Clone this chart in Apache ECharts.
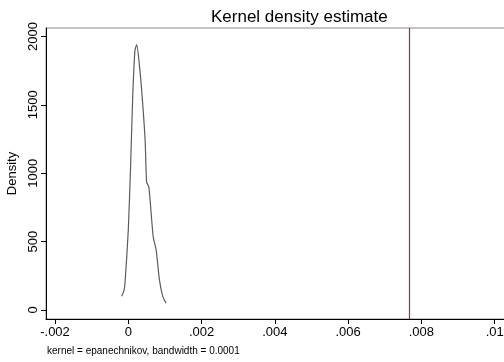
<!DOCTYPE html>
<html>
<head>
<meta charset="utf-8">
<script src="https://cdn.jsdelivr.net/npm/echarts@6/dist/echarts.min.js"></script>
<style>html,body{margin:0;padding:0;background:#fff;}#c{width:504px;height:362px;}</style>
</head>
<body>
<div id="c"></div>
<script>
// Kernel density estimate curve (x = value, y = density)
const densX = [-0.00018, -0.00012, -0.00009, 0.0, 0.000065, 0.00012, 0.00018, 0.00023, 0.0003, 0.00038, 0.00046, 0.0005, 0.00056, 0.00061, 0.00068, 0.00076, 0.00085, 0.00094, 0.00103];
const densY = [100, 140, 195, 585, 1070, 1555, 1895, 1940, 1800, 1555, 1240, 935, 900, 755, 535, 440, 220, 100, 50];
// vertical reference line
const refLineX = 0.00768;
// tick values and labels
const xTicks = [-0.002, 0, 0.002, 0.004, 0.006, 0.008, 0.01];
const xTickLabels = ['-.002', '0', '.002', '.004', '.006', '.008', '.01'];
const yTicks = [0, 500, 1000, 1500, 2000];
const yTickLabels = ['0', '500', '1000', '1500', '2000'];
const titleText = 'Kernel density estimate';
const yName = 'Density';
const noteText = 'kernel = epanechnikov, bandwidth = 0.0001';

const font = '"Liberation Sans", Arial, Helvetica, sans-serif';
const refColor = '#a3293d';
function nearestLabel(v, ticks, labels) {
  let best = 0, bd = Infinity;
  ticks.forEach((t, i) => { const d = Math.abs(t - v); if (d < bd) { bd = d; best = i; } });
  return labels[best];
}
const chart = echarts.init(document.getElementById('c'), null, {renderer: 'canvas'});
chart.setOption({
  animation: false,
  backgroundColor: '#fff',
  title: {
    text: titleText, left: 206, top: 4,
    textStyle: {fontFamily: font, fontSize: 17, fontWeight: 'normal', color: '#000'}
  },
  graphic: [{
    type: 'text', left: 47, top: 346,
    style: {text: noteText, fontFamily: font, fontSize: 10, fill: '#000'}
  }],
  grid: {left: 46, top: 28, width: 467, bottom: 43, outerBoundsMode: 'none', containLabel: false,
    show: true, borderColor: '#8a8a8a', borderWidth: 1, backgroundColor: 'transparent'},
  xAxis: {
    type: 'value', min: -0.002246, max: 0.0105,
    axisLine: {show: true, onZero: false, lineStyle: {color: '#000', width: 1}},
    axisTick: {show: true, length: 5, customValues: xTicks, lineStyle: {color: '#000'}},
    axisLabel: {customValues: xTicks, margin: 7, fontFamily: font, fontSize: 13, color: '#000',
      hideOverlap: false, formatter: v => nearestLabel(v, xTicks, xTickLabels)},
    splitLine: {show: false}
  },
  yAxis: {
    type: 'value', min: -66, max: 2062,
    name: yName, nameLocation: 'middle', nameGap: 23,
    nameTextStyle: {fontFamily: font, fontSize: 13, color: '#000'},
    axisLine: {show: true, onZero: false, lineStyle: {color: '#000', width: 1}},
    axisTick: {show: true, length: 5, customValues: yTicks, lineStyle: {color: '#000'}},
    axisLabel: {customValues: yTicks, rotate: 90, margin: 6, fontFamily: font, fontSize: 13, color: '#000',
      formatter: v => nearestLabel(v, yTicks, yTickLabels)},
    splitLine: {show: false}
  },
  series: [{
    type: 'line',
    data: densX.map((x, i) => [x, densY[i]]),
    showSymbol: false, smooth: 0.2,
    color: '#5c5c5c',
    lineStyle: {color: '#5c5c5c', width: 1.2},
    markLine: {
      silent: true, symbol: 'none', label: {show: false}, precision: 8,
      itemStyle: {color: refColor},
      lineStyle: {color: refColor, width: 1.2, type: 'solid', opacity: 1},
      data: [{xAxis: refLineX, lineStyle: {color: refColor}}]
    }
  }]
});
</script>
</body>
</html>
